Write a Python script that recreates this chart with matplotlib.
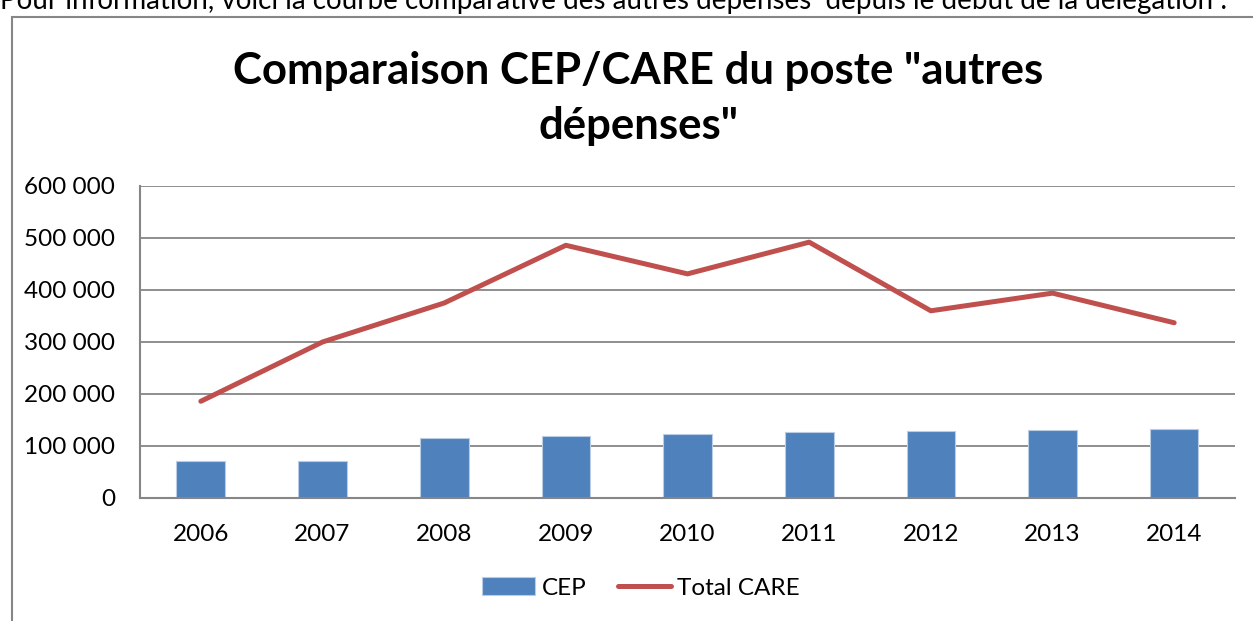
import numpy as np
import matplotlib.pyplot as plt
from matplotlib.patches import Rectangle
from matplotlib.ticker import FuncFormatter

plt.rcParams.update({
    "font.family": ["Lato", "DejaVu Sans"],
    "font.size": 17.5})

years = ["2006", "2007", "2008", "2009", "2010", "2011", "2012", "2013", "2014"]
cep = [71000, 72000, 115000, 120000, 123000, 126000, 128000, 130000, 133000]
total_care = [186000, 300000, 375000, 486000, 431000, 492000, 360000, 394000, 337000]

blue = "#4F81BD"
red = "#C0504D"
grey = "#868686"


def plot(plot_file) -> None:
    fig = plt.figure(figsize=(12.53, 6.21), dpi=100)
    ax = fig.add_axes([140 / 1253, 1 - 498 / 621, 1095 / 1253, 312 / 621])

    # document text above the chart, clipped by the crop
    fig.text(0.0, 1 - 9 / 621,
             "Pour information, voici la courbe comparative des autres dépenses  depuis le début de la délégation :",
             ha="left", va="baseline", fontsize=20)
    # chart frame
    fig.patches.append(Rectangle((11.5 / 1253, -0.2), 1.2, 1.2 - 16.5 / 621,
                                 transform=fig.transFigure, fill=False,
                                 edgecolor=grey, linewidth=1.5))

    x = np.arange(len(years))
    bars = ax.bar(x, cep, width=0.4, color=blue, edgecolor="#B9CDE5", linewidth=0.8,
                  label="CEP", zorder=2)
    line, = ax.plot(x, total_care, color=red, linewidth=3.6, solid_capstyle="round",
                    label="Total CARE", zorder=3)

    ax.set_xlim(-0.5, len(years) - 0.5)
    ax.set_ylim(0, 600000)
    ax.set_yticks(np.arange(0, 600001, 100000))
    ax.yaxis.set_major_formatter(FuncFormatter(lambda v, p: f"{int(v):,}".replace(",", " ")))
    ax.set_xticks(x)
    ax.set_xticklabels(years)
    ax.grid(axis="y", color=grey, linewidth=1.3, zorder=1)
    ax.tick_params(axis="both", length=0, labelsize=17.5)
    ax.tick_params(axis="y", pad=18)
    ax.tick_params(axis="x", pad=19)
    for s in ["top", "right"]:
        ax.spines[s].set_visible(False)
    for s in ["left", "bottom"]:
        ax.spines[s].set_color(grey)
        ax.spines[s].set_linewidth(1.5)
        ax.spines[s].set_zorder(4)

    fig.text(638 / 1253, 1 - 84 / 621, 'Comparaison CEP/CARE du poste "autres',
             ha="center", va="baseline", fontsize=31.5, fontweight="bold")
    fig.text(638 / 1253, 1 - 139 / 621, 'dépenses"',
             ha="center", va="baseline", fontsize=31.5, fontweight="bold")

    fig.legend([bars, line], ["CEP", "Total CARE"], loc="center",
               bbox_to_anchor=(641 / 1253, 1 - 588 / 621), ncol=2,
               frameon=False, fontsize=17.5, handlelength=2.2, handleheight=0.75,
               handletextpad=0.25, columnspacing=1.3)

    fig.savefig(plot_file, dpi=100)
    plt.close(fig)


plot("out.png")
